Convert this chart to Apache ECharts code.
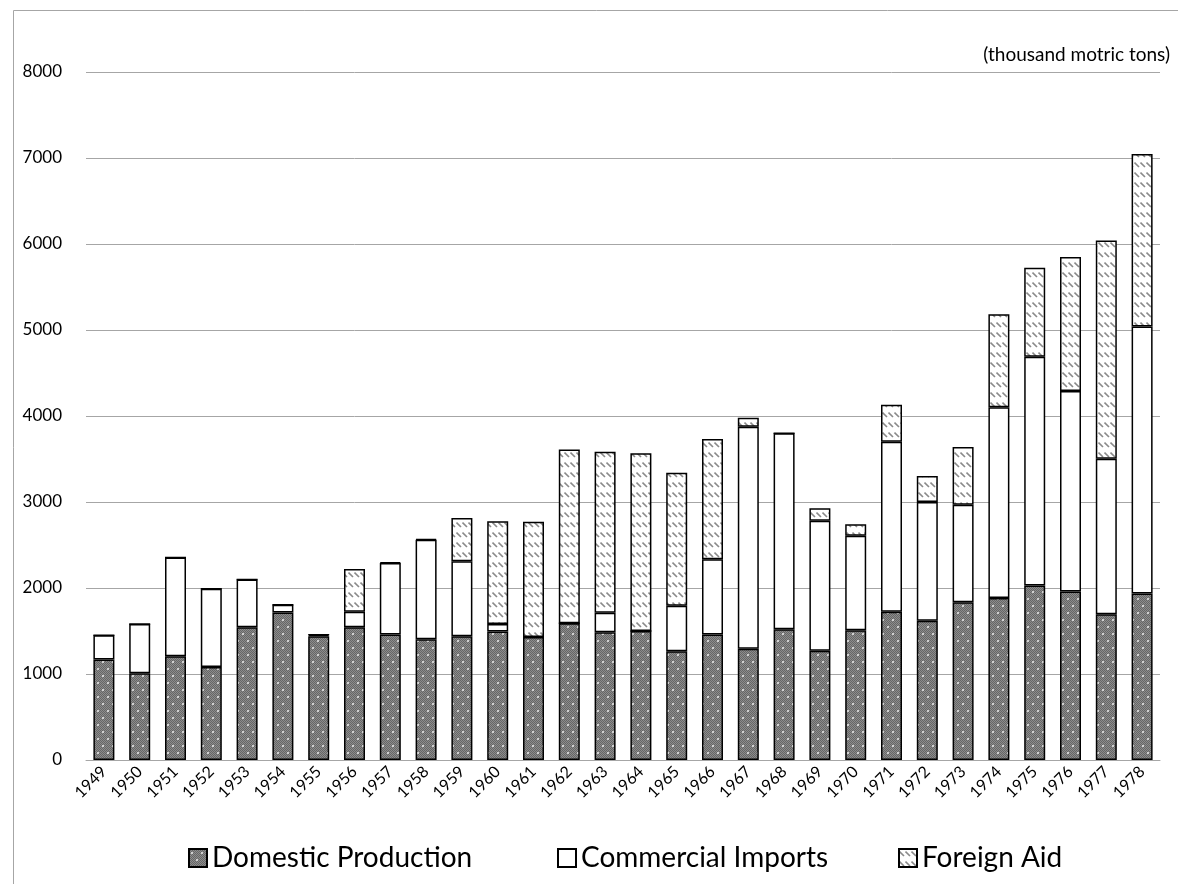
<!DOCTYPE html>
<html>
<head>
<meta charset="utf-8">
<script src="https://cdn.jsdelivr.net/npm/echarts@6/dist/echarts.min.js"></script>
<style>html,body{margin:0;padding:0;background:#fff;}#chart{width:1178px;height:884px;}</style>
</head>
<body>
<div id="chart"></div>
<script>
const years = ['1949','1950','1951','1952','1953','1954','1955','1956','1957','1958','1959','1960','1961','1962','1963','1964','1965','1966','1967','1968','1969','1970','1971','1972','1973','1974','1975','1976','1977','1978'];
const domesticProduction = [1170,1010,1205,1080,1545,1715,1440,1545,1460,1405,1440,1495,1430,1590,1485,1500,1265,1460,1295,1520,1270,1510,1725,1620,1835,1885,2030,1960,1695,1935];
const commercialImports = [280,570,1150,910,555,90,15,180,830,1155,870,85,0,0,228,0,530,873,2581,2278,1513,1099,1975,1379,1134,2216,2659,2332,1808,3107];
const foreignAid = [0,0,0,0,0,0,0,496,10,10,505,1195,1340,2020,1872,2066,1546,1400,105,0,143,131,430,303,671,1083,1034,1558,2538,2004];
const yTicks = [0,1000,2000,3000,4000,5000,6000,7000,8000];
const unitLabel = '(thousand motric tons)';

function dotPattern(){
  const c = document.createElement('canvas'); c.width = 10; c.height = 14;
  const g = c.getContext('2d');
  for (let y=0;y<14;y++) for (let x=0;x<10;x++){
    g.fillStyle = ((x+y)%2===0) ? '#666666' : '#8c8c8c';
    g.fillRect(x,y,1,1);
  }
  g.fillStyle = '#d0d0d0';
  g.fillRect(2,3,2,2);
  g.fillRect(7,10,2,2);
  return c;
}
function hatchPattern(){
  const c = document.createElement('canvas'); c.width = 6; c.height = 10;
  const g = c.getContext('2d');
  g.fillStyle = '#ffffff'; g.fillRect(0,0,6,10);
  g.strokeStyle = '#8a8a8a'; g.lineWidth = 1.6;
  g.beginPath(); g.moveTo(0.5,2.5); g.lineTo(5,7); g.stroke();
  return c;
}
const domFill = {image: dotPattern(), repeat: 'repeat'};
const aidFill = {image: hatchPattern(), repeat: 'repeat'};

const chart = echarts.init(document.getElementById('chart'));
const font = 'Lato, "Open Sans", sans-serif';
const legendText = {fontSize: 28, color: '#000', fontFamily: font};
chart.setOption({
  animation: false,
  textStyle: {fontFamily: font},
  graphic: [
    {type: 'rect', left: 11, top: 8, silent: true, z: -1,
     shape: {width: 1180, height: 900}, style: {fill: 'none', stroke: '#a6a6a6', lineWidth: 1}},
    {type: 'text', right: 8, top: 45, style: {text: unitLabel, font: '19px ' + font, fill: '#000'}}
  ],
  grid: {left: 86, right: 18, top: 72, bottom: 124},
  legend: [
    {data: ['Domestic Production'], left: 183, top: 839, icon: 'rect', itemWidth: 18, itemHeight: 18, itemGap: 0, textStyle: legendText},
    {data: ['Commercial Imports'], left: 552, top: 839, icon: 'rect', itemWidth: 18, itemHeight: 18, itemGap: 0, textStyle: legendText},
    {data: ['Foreign Aid'], left: 893, top: 839, icon: 'rect', itemWidth: 18, itemHeight: 18, itemGap: 0, textStyle: legendText}
  ],
  xAxis: {
    type: 'category', data: years,
    axisLine: {lineStyle: {color: '#a6a6a6'}},
    axisTick: {show: false},
    axisLabel: {rotate: 45, fontSize: 16, color: '#000', margin: 9, interval: 0}
  },
  yAxis: {
    type: 'value', min: yTicks[0], max: yTicks[yTicks.length-1], interval: 1000,
    axisLine: {show: false}, axisTick: {show: false},
    axisLabel: {fontSize: 17, color: '#000', margin: 24, formatter: v => String(v)},
    splitLine: {lineStyle: {color: '#a6a6a6', width: 1}}
  },
  series: [
    {name: 'Domestic Production', type: 'bar', stack: 'total', data: domesticProduction, barWidth: 21,
     itemStyle: {color: domFill, borderColor: '#000', borderWidth: 1.5}},
    {name: 'Commercial Imports', type: 'bar', stack: 'total', data: commercialImports, barWidth: 21,
     itemStyle: {color: '#fff', borderColor: '#000', borderWidth: 1.5}},
    {name: 'Foreign Aid', type: 'bar', stack: 'total', data: foreignAid, barWidth: 21,
     itemStyle: {color: aidFill, borderColor: '#000', borderWidth: 1.5}}
  ]
});
</script>
</body>
</html>
